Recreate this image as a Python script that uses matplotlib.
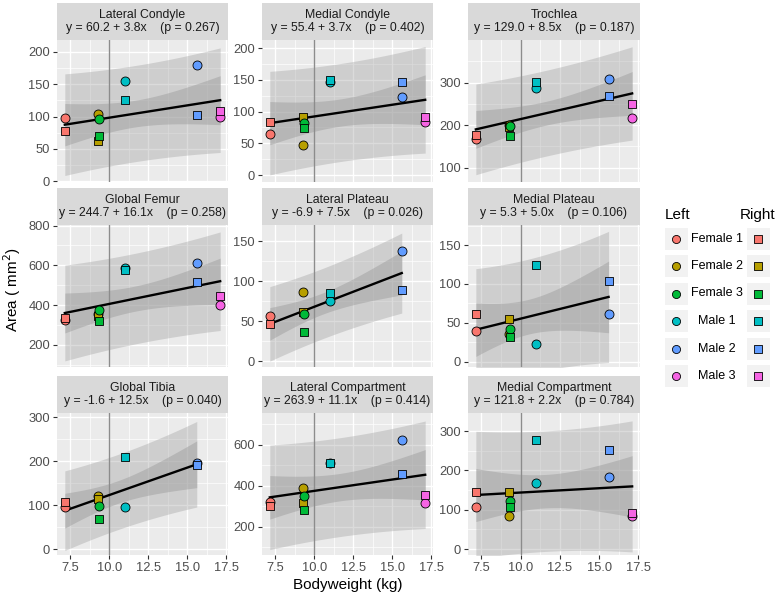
import matplotlib.pyplot as plt
from matplotlib.patches import Rectangle
import numpy as np

plt.rcParams['font.family'] = ['Liberation Sans', 'DejaVu Sans']

# subjects, bodyweight (kg), colours
subjects = ["Female 1", "Female 2", "Female 3", "Male 1", "Male 2", "Male 3"]
weight = [7.15, 9.25, 9.35, 11.0, 15.6, 17.1]
colors = ["#F8766D", "#B79F00", "#00BA38", "#00BFC4", "#619CFF", "#F564E3"]

titles = ["Lateral Condyle", "Medial Condyle", "Trochlea",
          "Global Femur", "Lateral Plateau", "Medial Plateau",
          "Global Tibia", "Lateral Compartment", "Medial Compartment"]
intercepts = [60.2, 55.4, 129.0, 244.7, -6.9, 5.3, -1.6, 263.9, 121.8]
slopes = [3.8, 3.7, 8.5, 16.1, 7.5, 5.0, 12.5, 11.1, 2.2]
pvals = ["0.267", "0.402", "0.187", "0.258", "0.026", "0.106", "0.040", "0.414", "0.784"]

# left (circle) and right (square) values, per subject; None = missing
left = [
    [97, 104, 96, 154, 180, 100],
    [64, 47, 82, 147, 123, 84],
    [167, 200, 198, 287, 309, 216],
    [327, 357, 374, 588, 610, 399],
    [57, 86, 59, 75, 137, None],
    [40, 36, 42, 23, 61, None],
    [97, 121, 99, 96, 197, None],
    [319, 388, 352, 510, 624, 316],
    [106, 85, 123, 169, 184, 85],
]
right = [
    [77, 62, 70, 126, 102, 108],
    [83, 91, 74, 150, 147, 92],
    [177, 196, 175, 302, 269, 249],
    [336, 343, 318, 576, 517, 447],
    [47, 61, 37, 85, 89, None],
    [61, 55, 32, 124, 104, None],
    [108, 114, 68, 209, 192, None],
    [301, 314, 282, 513, 458, 355],
    [145, 145, 106, 277, 252, 93],
]

ylims = [(-1, 218), (-11, 213), (66, 400), (88, 803), (-7, 170), (-7, 176),
         (-13, 310), (61, 756), (-15, 346)]
yticks = [[0, 50, 100, 150, 200], [0, 50, 100, 150, 200], [100, 200, 300],
          [200, 400, 600, 800], [0, 50, 100, 150], [0, 50, 100, 150],
          [0, 100, 200, 300], [200, 400, 600], [0, 100, 200, 300]]

W, H = 778, 597
fig = plt.figure(figsize=(W / 100, H / 100), dpi=100)


def px(x0, y0, w, h):
    return [x0 / W, 1 - (y0 + h) / H, w / W, h / H]


cols = [(57, 171), (262, 171), (468, 172)]
rows = [3, 188, 376]
strip_h, panel_h = 37, 142

for k in range(9):
    r, c = k // 3, k % 3
    x0, w = cols[c]
    top = rows[r]
    ax = fig.add_axes(px(x0, top + strip_h, w, panel_h))
    sax = fig.add_axes(px(x0, top, w, strip_h))
    sax.set_facecolor("#D9D9D9")
    sax.set_xticks([]); sax.set_yticks([])
    for s in sax.spines.values():
        s.set_visible(False)
    sax.text(0.5, 0.5, "%s\ny = %.1f + %.1fx    (p = %s)" % (titles[k], intercepts[k], slopes[k], pvals[k]),
             ha="center", va="center", fontsize=8.8, color="#1A1A1A", linespacing=1.12,
             transform=sax.transAxes)

    ax.set_facecolor("#EBEBEB")
    for s in ax.spines.values():
        s.set_visible(False)
    ax.set_axisbelow(True)

    xs, ys = [], []
    for i in range(6):
        for v in (left[k][i], right[k][i]):
            if v is not None:
                xs.append(weight[i]); ys.append(v)
    xs = np.array(xs); ys = np.array(ys)
    n = len(xs)
    b0, b1 = intercepts[k], slopes[k]
    res = ys - (b0 + b1 * xs)
    s_ = np.sqrt(np.sum(res ** 2) / (n - 2))
    xbar = xs.mean(); sxx = np.sum((xs - xbar) ** 2)
    t = {10: 2.228, 8: 2.306}[n - 2]
    xg = np.linspace(xs.min(), xs.max(), 80)
    yg = b0 + b1 * xg
    se = s_ * np.sqrt(1 / n + (xg - xbar) ** 2 / sxx)
    sp = s_ * np.sqrt(1 + 1 / n + (xg - xbar) ** 2 / sxx)
    ax.fill_between(xg, yg - t * sp, yg + t * sp, color="#999999", alpha=0.35, lw=0, zorder=2)
    ax.fill_between(xg, yg - t * se, yg + t * se, color="#999999", alpha=0.45, lw=0, zorder=2)
    ax.axvline(10, color="#8C8C8C", lw=1.0, zorder=3)
    ax.plot(xg, yg, color="black", lw=1.7, zorder=4)

    for i in range(6):
        if left[k][i] is not None:
            ax.scatter(weight[i], left[k][i], s=42, marker="o", facecolor=colors[i],
                       edgecolor="black", linewidth=0.6, zorder=5)
        if right[k][i] is not None:
            ax.scatter(weight[i], right[k][i], s=38, marker="s", facecolor=colors[i],
                       edgecolor="black", linewidth=0.6, zorder=5)

    ax.set_xlim(6.65, 17.6)
    ax.set_ylim(*ylims[k])
    ax.set_xticks([7.5, 10, 12.5, 15, 17.5])
    ax.set_xticks([8.75, 11.25, 13.75, 16.25], minor=True)
    yt = yticks[k]
    ax.set_yticks(yt)
    step = yt[1] - yt[0]
    ax.set_yticks([v + step / 2 for v in [yt[0] - step] + yt if ylims[k][0] < v + step / 2 < ylims[k][1]], minor=True)
    ax.grid(which="major", color="white", lw=1.0)
    ax.grid(which="minor", color="white", lw=0.5)
    ax.tick_params(which="major", length=3, width=0.8, color="#333333", labelsize=9.3,
                   labelcolor="#4D4D4D", pad=2)
    ax.tick_params(which="minor", length=0)
    if r < 2:
        ax.tick_params(axis="x", which="major", length=0, labelbottom=False)
    else:
        ax.set_xticklabels(["7.5", "10.0", "12.5", "15.0", "17.5"])

fig.text(12 / W, 1 - 290 / H, "Area ( mm$^2$)", rotation=90, ha="center", va="center", fontsize=11)
fig.text(348 / W, 1 - 585 / H, "Bodyweight (kg)", ha="center", va="center", fontsize=11)

# legend
lg = fig.add_axes([0, 0, 1, 1], zorder=-1)
lg.set_xlim(0, W); lg.set_ylim(H, 0); lg.axis("off")
lg.text(665, 215, "Left", ha="left", va="center", fontsize=11)
lg.text(740, 215, "Right", ha="left", va="center", fontsize=11)
for i in range(6):
    yc = 238.5 + i * 27.5
    lg.add_patch(Rectangle((665, yc - 11), 23, 22, facecolor="#F2F2F2", edgecolor="none"))
    lg.add_patch(Rectangle((747, yc - 11), 23, 22, facecolor="#F2F2F2", edgecolor="none"))
    lg.scatter(676.5, yc, s=34, marker="o", facecolor=colors[i], edgecolor="black", linewidth=0.6)
    lg.scatter(758.5, yc, s=28, marker="s", facecolor=colors[i], edgecolor="black", linewidth=0.6)
    lg.text(717, yc, subjects[i], ha="center", va="center", fontsize=9)

fig.savefig("out.png", dpi=100)
